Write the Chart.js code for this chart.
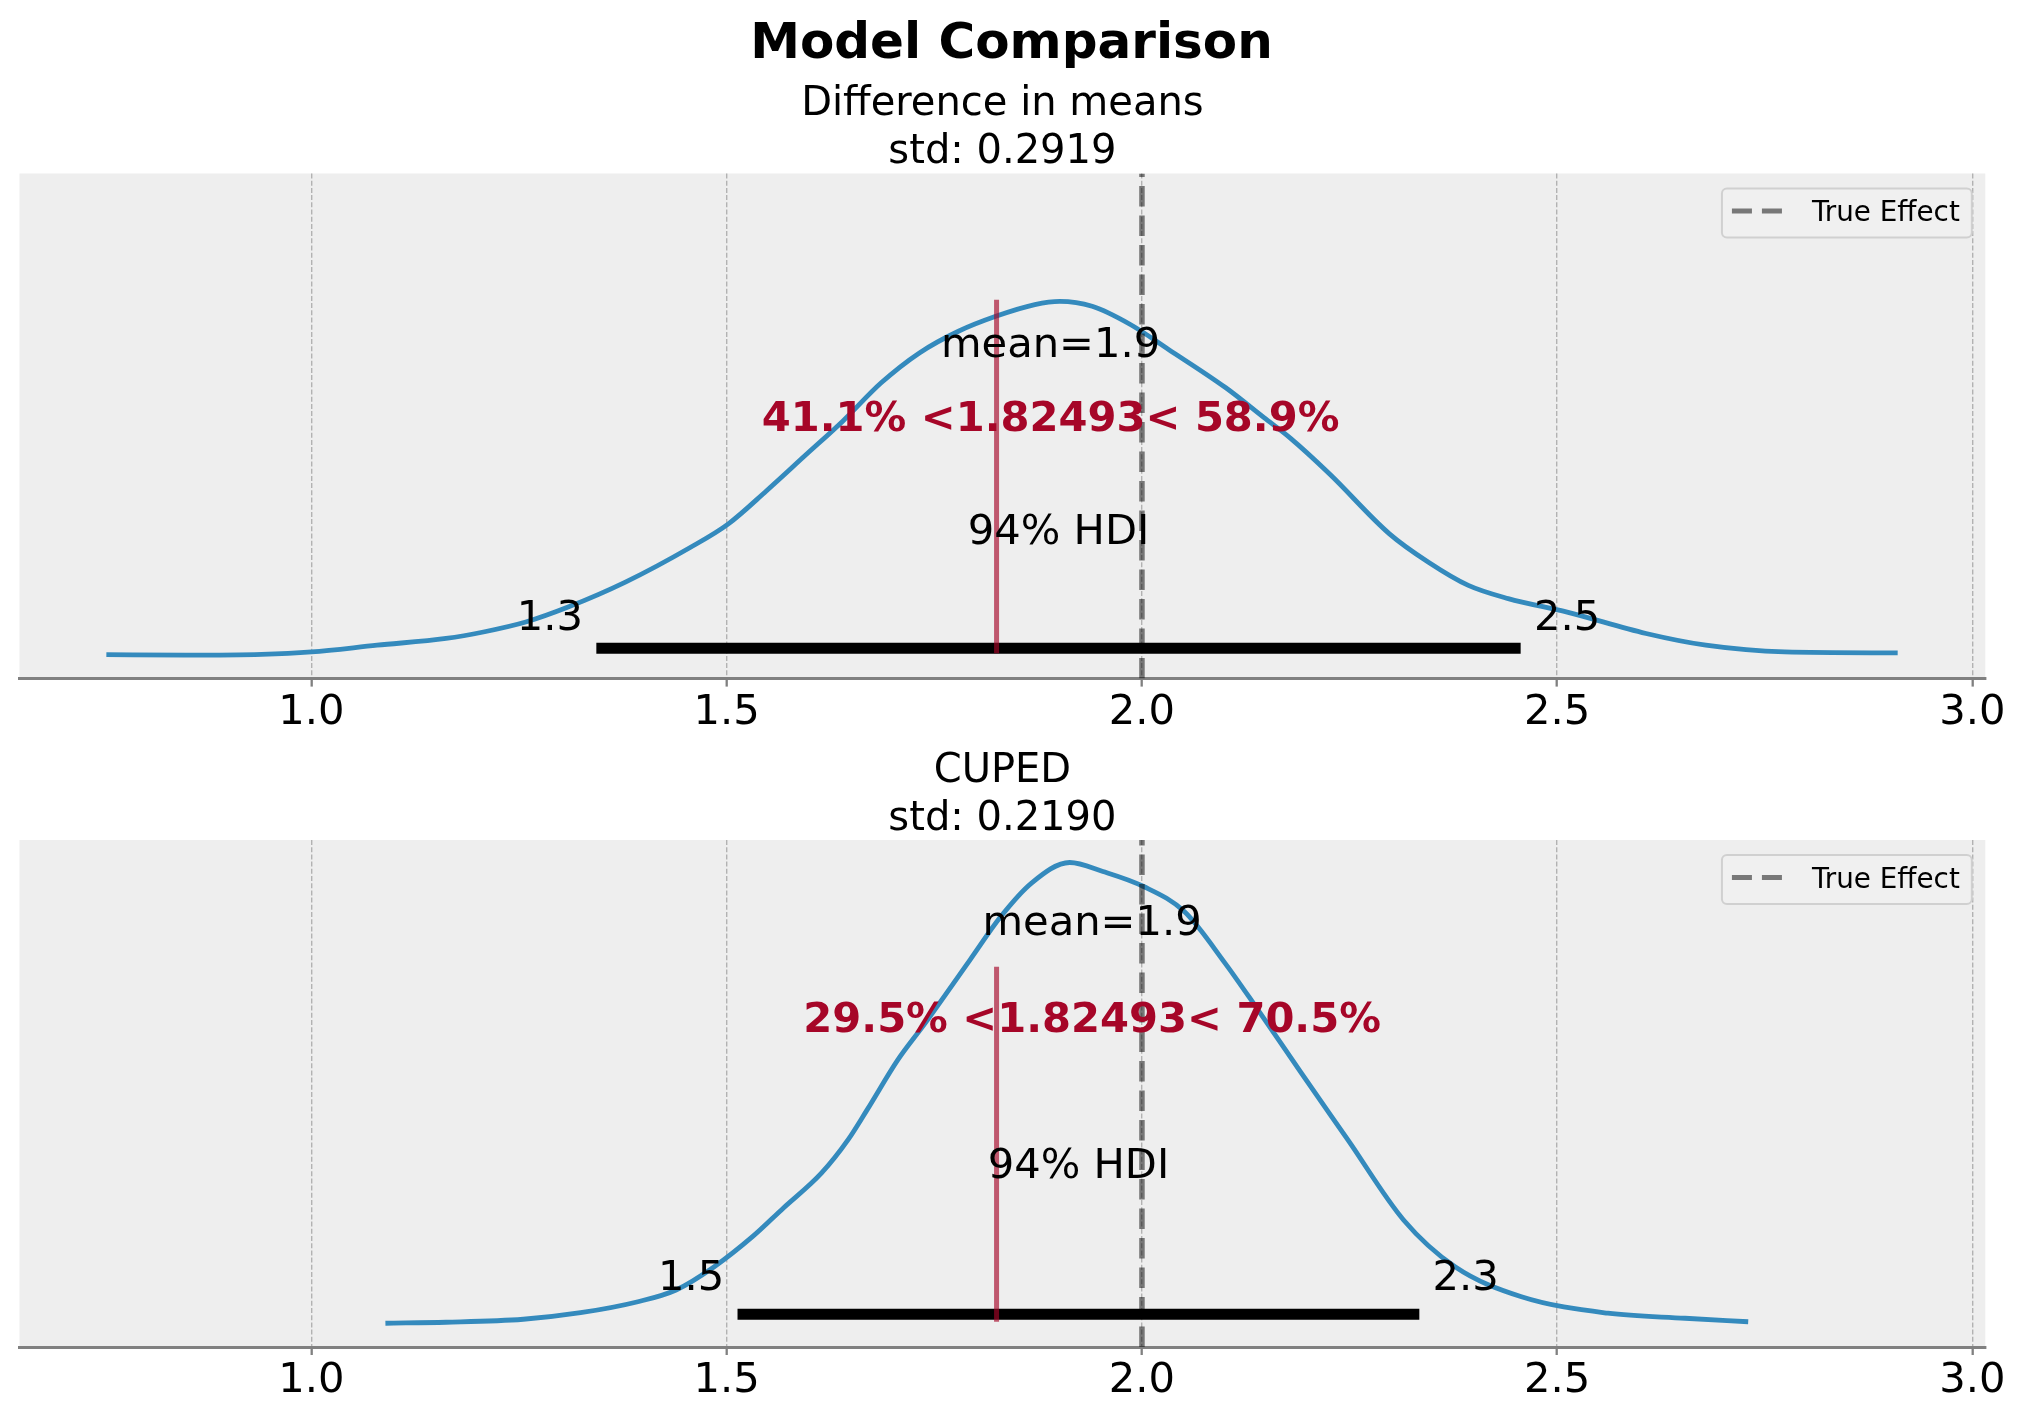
<!DOCTYPE html>
<html>
<head>
<meta charset="utf-8">
<title>Model Comparison</title>
<script src="https://cdn.jsdelivr.net/npm/chart.js@4.4.1/dist/chart.umd.min.js"></script>
<style>
  html, body { margin: 0; padding: 0; background: #fff; }
  body { width: 2023px; height: 1423px; position: relative; overflow: hidden; }
  canvas { position: absolute; left: 0; }
  #diffChart { top: 0; }
  #cupedChart { top: 730px; }
  #figTitle {
    position: absolute; left: 0; top: 10.5px; width: 2023px;
    text-align: center; font: bold 50px/60px "DejaVu Sans"; color: #000;
    z-index: 2;
  }
</style>
</head>
<body>
<div id="figTitle"></div>
<canvas id="diffChart" width="2023" height="730"></canvas>
<canvas id="cupedChart" width="2023" height="693"></canvas>
<script>
// ========== DATA ========== //
const figureTitle = "Model Comparison";
const panelNames = ["Difference in means", "CUPED"];
const panelStd = ["0.2919", "0.2190"];
const xTicks = [1.0, 1.5, 2.0, 2.5, 3.0];

// posterior density, difference in means
const diffX = [0.753, 0.848, 0.940, 1.000, 1.079, 1.162, 1.207, 1.258, 1.309, 1.378,
  1.456, 1.502, 1.548, 1.594, 1.640, 1.686, 1.732, 1.779, 1.824, 1.871,
  1.901, 1.940, 1.986, 2.032, 2.101, 2.147, 2.179, 2.226, 2.298, 2.345,
  2.393, 2.441, 2.512, 2.607, 2.679, 2.774, 2.910];
const diffY = [0.004, 0.002, 0.005, 0.015, 0.042, 0.069, 0.095, 0.135, 0.195, 0.295,
  0.434, 0.529, 0.662, 0.802, 0.942, 1.095, 1.215, 1.302, 1.362, 1.409,
  1.422, 1.402, 1.329, 1.229, 1.075, 0.955, 0.872, 0.729, 0.489, 0.375,
  0.282, 0.229, 0.175, 0.089, 0.042, 0.015, 0.011];

// posterior density, CUPED
const cupedX = [1.089, 1.162, 1.255, 1.324, 1.393, 1.439, 1.485, 1.531, 1.568, 1.614,
  1.646, 1.669, 1.706, 1.739, 1.793, 1.830, 1.867, 1.913, 1.953, 2.002,
  2.051, 2.100, 2.137, 2.192, 2.248, 2.315, 2.377, 2.457, 2.561, 2.654, 2.730];
const cupedY = [0.003, 0.007, 0.019, 0.045, 0.089, 0.136, 0.229, 0.349, 0.463, 0.603,
  0.736, 0.856, 1.056, 1.203, 1.456, 1.629, 1.763, 1.845, 1.809, 1.749,
  1.649, 1.443, 1.269, 1.003, 0.736, 0.416, 0.229, 0.109, 0.043, 0.023, 0.009];

const pointMean = [1.89, 1.94];
const hdiLow = [1.343, 1.513];
const hdiHigh = [2.456, 2.334];
const hdiProb = 94;
const refValue = 1.82493;
const pctBelowRef = [41.1, 29.5];
const pctAboveRef = [58.9, 70.5];
const trueEffect = 2.0;
const legendLabel = "True Effect";

// shared axis limits, and each panel's plot height when its labels were placed
const xRange = [0.6484, 3.0155];
const yRange = [-0.092, 1.935];
const plotHeight = [1.50, 1.944];

// ========== STYLE ========== //
const FONT = '"DejaVu Sans"';
const BLUE = "#348ABD";
const RED = "#A60628";
const LABEL_SIZE = 41.67;

Chart.defaults.font.family = FONT;
Chart.defaults.color = "#000";

// ========== PLUGINS ========== //
const axesBackground = {
  id: "axesBackground",
  beforeDraw(chart) {
    const { ctx, chartArea: a } = chart;
    ctx.save();
    ctx.fillStyle = "#eeeeee";
    ctx.fillRect(a.left, a.top, a.right - a.left, a.bottom - a.top);
    ctx.restore();
  }
};

function drawLegend(chart) {
  const { ctx, chartArea } = chart;
  ctx.font = `27.8px ${FONT}`;
  const textW = ctx.measureText(legendLabel).width;
  const w = 10 + 50 + 30 + textW + 12;
  const h = 49;
  const right = chartArea.right - 13.5;
  const left = right - w;
  const top = chartArea.top + 15;
  const r = 5;

  ctx.beginPath();
  ctx.moveTo(left + r, top);
  ctx.lineTo(right - r, top);
  ctx.arcTo(right, top, right, top + r, r);
  ctx.lineTo(right, top + h - r);
  ctx.arcTo(right, top + h, right - r, top + h, r);
  ctx.lineTo(left + r, top + h);
  ctx.arcTo(left, top + h, left, top + h - r, r);
  ctx.lineTo(left, top + r);
  ctx.arcTo(left, top, left + r, top, r);
  ctx.closePath();
  ctx.fillStyle = "rgba(240,240,240,0.8)";
  ctx.fill();
  ctx.strokeStyle = "#d0d0d0";
  ctx.lineWidth = 2;
  ctx.stroke();

  ctx.beginPath();
  ctx.setLineDash([20, 10]);
  ctx.moveTo(left + 10, top + 22.6);
  ctx.lineTo(left + 60, top + 22.6);
  ctx.strokeStyle = "rgba(0,0,0,0.5)";
  ctx.lineWidth = 5;
  ctx.stroke();
  ctx.setLineDash([]);

  ctx.fillStyle = "#000";
  ctx.textAlign = "left";
  ctx.textBaseline = "alphabetic";
  ctx.fillText(legendLabel, left + 90, top + 32.6);
}

const posteriorLabels = {
  id: "posteriorLabels",
  afterDatasetsDraw(chart, args, opts) {
    const { ctx, scales: { x, y } } = chart;
    const i = opts.panel;
    const h = plotHeight[i];

    const put = (text, xv, yv, align, bold, color) => {
      ctx.font = `${bold ? "bold " : ""}${LABEL_SIZE}px ${FONT}`;
      ctx.fillStyle = color || "#000";
      ctx.textAlign = align;
      ctx.textBaseline = "alphabetic";
      ctx.fillText(text, x.getPixelForValue(xv), y.getPixelForValue(yv));
    };

    ctx.save();
    put(`mean=${pointMean[i].toFixed(1)}`, pointMean[i], h * 0.8, "center");
    put(`${pctBelowRef[i]}% <${refValue}< ${pctAboveRef[i]}%`, pointMean[i], h * 0.6, "center", true, RED);
    put(`${hdiProb}% HDI`, (hdiLow[i] + hdiHigh[i]) / 2, h * 0.3, "center");
    put(hdiLow[i].toFixed(1) + " ", hdiLow[i], h * 0.07, "right");
    put(" " + hdiHigh[i].toFixed(1), hdiHigh[i], h * 0.07, "left");
    drawLegend(chart);
    ctx.restore();
  }
};

// ========== PANELS ========== //
function panelDatasets(i, xs, ys) {
  const span = yRange[1] - yRange[0];
  const refLo = yRange[0] + 0.05 * span;
  const refHi = yRange[0] + 0.75 * span;
  const hdiY = plotHeight[i] * 0.02;

  return [
    {
      label: "posterior",
      data: xs.map((v, k) => ({ x: v, y: ys[k] })),
      borderColor: BLUE,
      borderWidth: 4.8,
      pointRadius: 0,
      cubicInterpolationMode: "monotone",
      order: 4
    },
    {
      label: "hdi",
      data: [{ x: hdiLow[i], y: hdiY }, { x: hdiHigh[i], y: hdiY }],
      borderColor: "#000",
      borderWidth: 11,
      borderCapStyle: "butt",
      pointRadius: 0,
      order: 3
    },
    {
      label: "reference",
      data: [{ x: refValue, y: refLo }, { x: refValue, y: refHi }],
      borderColor: "rgba(166,6,40,0.65)",
      borderWidth: 5,
      borderCapStyle: "butt",
      pointRadius: 0,
      order: 2
    },
    {
      label: legendLabel,
      data: [{ x: trueEffect, y: yRange[0] }, { x: trueEffect, y: yRange[1] }],
      borderColor: "rgba(0,0,0,0.5)",
      borderWidth: 5.5,
      borderDash: [20.6, 8.9],
      borderCapStyle: "butt",
      pointRadius: 0,
      order: 1
    }
  ];
}

function drawPanel(canvasId, i, xs, ys, subtitlePad, bottomPad) {
  const ctx = document.getElementById(canvasId).getContext("2d");

  new Chart(ctx, {
    type: "line",
    data: { datasets: panelDatasets(i, xs, ys) },
    options: {
      responsive: false,
      animation: false,
      devicePixelRatio: 1,
      events: [],
      layout: { padding: { left: 19.5, right: 37.7, top: 0, bottom: bottomPad } },
      plugins: {
        legend: { display: false },
        tooltip: { enabled: false },
        title: { display: false },
        subtitle: {
          display: true,
          fullSize: false,
          text: [panelNames[i], `std: ${panelStd[i]}`],
          color: "#000",
          font: { family: FONT, size: 40, weight: "normal", lineHeight: 1.2 },
          padding: subtitlePad
        },
        posteriorLabels: { panel: i }
      },
      scales: {
        x: {
          type: "linear",
          min: xRange[0],
          max: xRange[1],
          afterBuildTicks: (scale) => {
            scale.ticks = xTicks.map(v => ({ value: v }));
          },
          afterFit: (scale) => {
            scale.height = 51;
            scale.paddingLeft = 0;
            scale.paddingRight = 0;
          },
          ticks: {
            color: "#000",
            font: { family: FONT, size: LABEL_SIZE, lineHeight: 1.2 },
            padding: 1.3,
            maxRotation: 0,
            autoSkip: false,
            callback: v => Number(v).toFixed(1)
          },
          grid: {
            color: "#b2b2b2",
            lineWidth: 1.4,
            drawTicks: true,
            tickLength: 8,
            tickWidth: 2.3,
            tickColor: "#808080"
          },
          border: { display: true, color: "#808080", width: 3, dash: [5, 2.2] }
        },
        y: {
          type: "linear",
          display: false,
          min: yRange[0],
          max: yRange[1]
        }
      }
    },
    plugins: [axesBackground, posteriorLabels]
  });
}

// ========== INIT ========== //
document.addEventListener("DOMContentLoaded", () => {
  document.getElementById("figTitle").textContent = figureTitle;
  drawPanel("diffChart", 0, diffX, diffY, { top: 80.5, bottom: -3 }, 0.4);
  drawPanel("cupedChart", 1, cupedX, cupedY, { top: 18, bottom: -4 }, 25);
});
</script>
</body>
</html>
